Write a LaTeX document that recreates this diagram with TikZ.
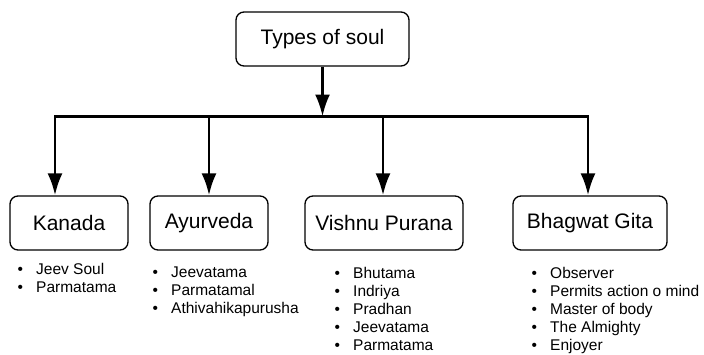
\documentclass[tikz,border=0pt]{standalone}
\usepackage{fontspec}
\setmainfont{Liberation Sans}
\usetikzlibrary{arrows.meta}
\usetikzlibrary{calc}

\newcommand{\bulletrow}[1]{\makebox[18.5pt][l]{\textbullet}#1}

\begin{document}
\begin{tikzpicture}[x=1pt,y=-1pt,
        box/.style={draw,line width=1.3pt,rounded corners=8pt,minimum height=54pt,inner sep=0pt,font=\fontsize{21}{25}\selectfont},
        flow/.style={line width=2.8pt,-{Latex[length=22pt,width=15pt]}},
        items/.style={anchor=north west,inner sep=0pt,align=left,font=\fontsize{15.5}{18}\selectfont}]
            \useasboundingbox (0,0) rectangle (704,354);

            \node[box,minimum width=173pt] (soul) at (322.5,39) {Types of soul};
            \node[box,minimum width=118pt] (kanada) at (69,223) {Kanada};
            \node[box,minimum width=118pt] (ayurveda) at (209,223) {Ayurveda};
            \node[box,minimum width=158pt] (vishnu) at (384,223) {Vishnu Purana};
            \node[box,minimum width=154pt] (bhagwat) at (590,223) {Bhagwat Gita};

            \coordinate (bus) at (322.5,116.5);
            \draw[flow] (soul) -- (bus);
            \draw[flow] (bus) -| ([xshift=-14pt]kanada.north);
            \draw[flow] (bus) -| (ayurveda.north);
            \draw[flow] (bus) -| ([xshift=-1pt]vishnu.north);
            \draw[flow] (bus) -| ([xshift=-2pt]bhagwat.north);

            \node[items] (kanada-list) at (17.5,263) {\bulletrow{Jeev Soul}\\\bulletrow{Parmatama}};
            \node[items] (ayurveda-list) at (152.5,267) {\bulletrow{Jeevatama}\\\bulletrow{Parmatamal}\\\bulletrow{Athivahikapurusha}};
            \node[items] (vishnu-list) at (334.5,267) {\bulletrow{Bhutama}\\\bulletrow{Indriya}\\\bulletrow{Pradhan}\\\bulletrow{Jeevatama}\\\bulletrow{Parmatama}};
            \node[items] (bhagwat-list) at (531.5,267) {\bulletrow{Observer}\\\bulletrow{Permits action o mind}\\\bulletrow{Master of body}\\\bulletrow{The Almighty}\\\bulletrow{Enjoyer}};
        \end{tikzpicture}
\end{document}
